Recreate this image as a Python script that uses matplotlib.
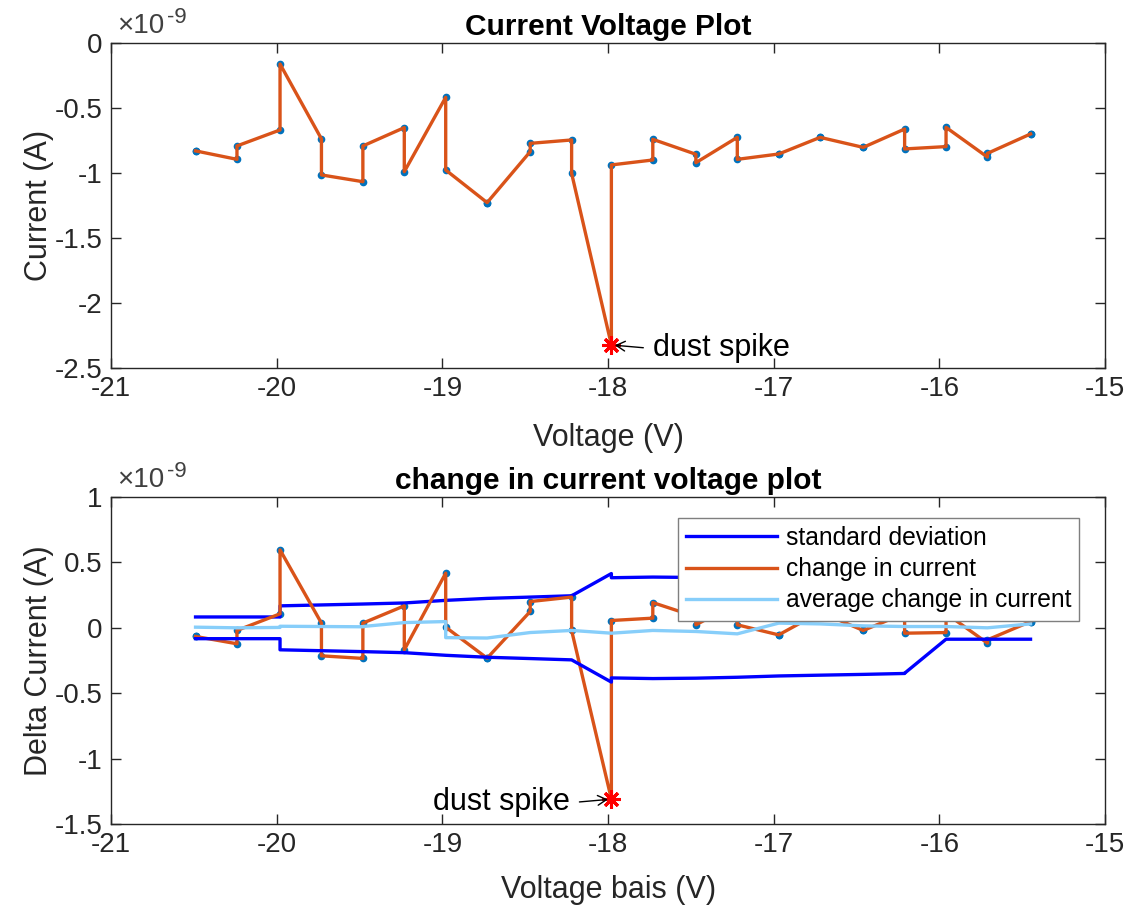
import numpy as np
import matplotlib
matplotlib.use("Agg")
import matplotlib.pyplot as plt
from matplotlib.ticker import FixedLocator, FixedFormatter

plt.rcParams['font.family'] = ['Liberation Sans', 'DejaVu Sans']
plt.rcParams['axes.unicode_minus'] = False

# Bias voltage steps (V); two readings per step
voltage = [-20.49, -20.24, -19.98, -19.73, -19.48, -19.23, -18.98, -18.73, -18.47, -18.22,
           -17.98, -17.73, -17.47, -17.22, -16.97, -16.72, -16.46, -16.21, -15.96, -15.71, -15.45]

# Measured current (x1e-9 A): first and second reading at each step
current_first = [-0.83, -0.895, -0.669, -0.738, -1.067, -0.651, -0.418, -1.228, -0.836, -0.746,
                 -2.323, -0.900, -0.856, -0.726, -0.854, -0.726, -0.803, -0.662, -0.797, -0.878, -0.700]
current_second = [-0.83, -0.792, -0.162, -1.015, -0.792, -0.990, -0.977, -1.228, -0.772, -1.003,
                  -0.938, -0.741, -0.921, -0.895, -0.854, -0.726, -0.803, -0.815, -0.649, -0.849, -0.700]

# Change in current (x1e-9 A)
delta_first = [-0.066, -0.122, 0.107, 0.036, -0.234, 0.168, 0.418, -0.232, 0.125, 0.235,
               -1.31, 0.074, 0.085, 0.19, -0.054, 0.12, -0.02, 0.11, -0.036, -0.117, 0.048]
delta_second = [-0.066, -0.02, 0.596, -0.214, 0.036, -0.168, 0.005, -0.232, 0.201, -0.02,
                0.056, 0.193, 0.023, 0.023, -0.054, 0.12, -0.02, -0.041, 0.11, -0.092, 0.048]

# Standard deviation envelope (x1e-9 A)
std_first = [0.083, 0.083, 0.083, 0.175, 0.182, 0.19, 0.21, 0.225, 0.235, 0.245,
             0.415, 0.388, 0.385, 0.378, 0.368, 0.362, 0.356, 0.349, 0.087, 0.087, 0.087]
std_second = [0.083, 0.083, 0.168, 0.175, 0.182, 0.19, 0.21, 0.225, 0.235, 0.245,
              0.383, 0.388, 0.385, 0.378, 0.368, 0.362, 0.356, 0.347, 0.087, 0.087, 0.087]

# Running average of the change in current (x1e-9 A)
avg_first = [0.005, 0.0, 0.003, 0.01, 0.008, 0.04, 0.048, -0.078, -0.036, -0.02,
             -0.041, -0.02, -0.028, -0.046, 0.036, 0.03, 0.015, 0.01, 0.01, 0.0, 0.03]
avg_second = [0.005, 0.0, 0.012, 0.01, 0.01, 0.04, -0.075, -0.078, -0.036, -0.02,
              -0.041, -0.02, -0.028, -0.046, 0.036, 0.03, 0.015, 0.01, 0.01, 0.0, 0.03]

spike_index = 10  # step where the dust spike occurs (first reading)

x_ticks = [-21, -20, -19, -18, -17, -16, -15]
top_y_ticks = [-2.5, -2, -1.5, -1, -0.5, 0]
top_y_labels = ['-2.5', '-2', '-1.5', '-1', '-0.5', '0']
bot_y_ticks = [-1.5, -1, -0.5, 0, 0.5, 1]
bot_y_labels = ['-1.5', '-1', '-0.5', '0', '0.5', '1']


def interleave(a, b):
    return np.column_stack([a, b]).ravel()


v = np.repeat(voltage, 2)
cur = interleave(current_first, current_second)
dlt = interleave(delta_first, delta_second)
std = interleave(std_first, std_second)
avg = interleave(avg_first, avg_second)

ORANGE = '#D95319'
DOTBLUE = '#0072BD'
AXCOL = '#262626'
TICK_FS = 20
LABEL_FS = 22
TITLE_FS = 21.5
LEGEND_FS = 17.7
LW = 2.4

fig = plt.figure(figsize=(11.46, 9.07), dpi=100)
ax1 = fig.add_axes([0.0969, 0.5943, 0.8674, 0.3583])
ax2 = fig.add_axes([0.0969, 0.0915, 0.8674, 0.3605])


def style_axes(ax, yticks, ylabels, ylim):
    ax.set_xlim(-21, -15)
    ax.set_ylim(*ylim)
    ax.xaxis.set_major_locator(FixedLocator(x_ticks))
    ax.xaxis.set_major_formatter(FixedFormatter([str(t) for t in x_ticks]))
    ax.yaxis.set_major_locator(FixedLocator(yticks))
    ax.yaxis.set_major_formatter(FixedFormatter(ylabels))
    ax.tick_params(direction='in', length=7, width=1, colors=AXCOL,
                   labelsize=TICK_FS, top=True, right=True, pad=6)
    for sp in ax.spines.values():
        sp.set_color(AXCOL)
        sp.set_linewidth(1.0)
    # exponent marker drawn above the upper-left corner
    ax.text(0.006, 1.012, '\u00d710', transform=ax.transAxes,
            fontsize=TICK_FS, color='#404040', ha='left', va='bottom')
    ax.text(0.056, 1.045, '-9', transform=ax.transAxes,
            fontsize=16, color='#404040', ha='left', va='bottom')


def mark_spike(ax, x, y, side):
    ax.plot(x, y, linestyle='none', marker=(8, 2, 0), markersize=13,
            markeredgewidth=2.2, color='red', zorder=5)
    sgn = 1 if side == 'right' else -1
    ax.annotate('', xy=(x, y), xytext=(sgn * 23, -2), textcoords='offset points',
                arrowprops=dict(arrowstyle='->,head_length=0.45,head_width=0.25',
                                lw=1.0, color='black', shrinkA=0, shrinkB=2.5,
                                mutation_scale=14),
                zorder=6)
    ax.annotate('dust spike', xy=(x, y), xytext=(sgn * 30, -2), textcoords='offset points',
                fontsize=LABEL_FS, ha='left' if side == 'right' else 'right',
                va='center', color='black', zorder=6)


# ---- Current vs voltage ----
ax1.plot(v, cur, linestyle='none', marker='o', markersize=4.5, color=DOTBLUE, zorder=2)
ax1.plot(v, cur, color=ORANGE, linewidth=LW, zorder=3)
mark_spike(ax1, v[2 * spike_index], cur[2 * spike_index], 'right')
style_axes(ax1, top_y_ticks, top_y_labels, (-2.5, 0))
ax1.set_title('Current Voltage Plot', fontsize=TITLE_FS, fontweight='bold', pad=6)
ax1.set_xlabel('Voltage (V)', fontsize=LABEL_FS, color=AXCOL)
ax1.set_ylabel('Current (A)', fontsize=LABEL_FS, color=AXCOL)
ax1.xaxis.set_label_coords(0.5, -0.168)
ax1.yaxis.set_label_coords(-0.057, 0.5)

# ---- Change in current vs voltage ----
ax2.plot(v, dlt, linestyle='none', marker='o', markersize=4.5, color=DOTBLUE, zorder=2)
h_std, = ax2.plot(v, std, color='#0000FF', linewidth=LW, zorder=3)
h_chg, = ax2.plot(v, dlt, color=ORANGE, linewidth=LW, zorder=3)
ax2.plot(v, -std, color='#0000FF', linewidth=LW, zorder=3)
h_avg, = ax2.plot(v, avg, color='#87CEFA', linewidth=LW, zorder=4)
mark_spike(ax2, v[2 * spike_index], dlt[2 * spike_index], 'left')
style_axes(ax2, bot_y_ticks, bot_y_labels, (-1.5, 1))
ax2.set_title('change in current voltage plot', fontsize=TITLE_FS, fontweight='bold', pad=6)
ax2.set_xlabel('Voltage bais (V)', fontsize=LABEL_FS, color=AXCOL)
ax2.set_ylabel('Delta Current (A)', fontsize=LABEL_FS, color=AXCOL)
ax2.xaxis.set_label_coords(0.5, -0.155)
ax2.yaxis.set_label_coords(-0.057, 0.5)

leg = ax2.legend([h_std, h_chg, h_avg],
                 ['standard deviation', 'change in current', 'average change in current'],
                 loc='upper left', bbox_to_anchor=(0.570, 0.937), fontsize=LEGEND_FS,
                 frameon=True, fancybox=False, framealpha=1, edgecolor='#7F7F7F',
                 handlelength=3.7, handletextpad=0.36, labelspacing=0.3,
                 borderpad=0.33, borderaxespad=0)
leg.get_frame().set_linewidth(1.0)
leg.set_zorder(10)

fig.savefig('out.png', dpi=100, facecolor='white')
